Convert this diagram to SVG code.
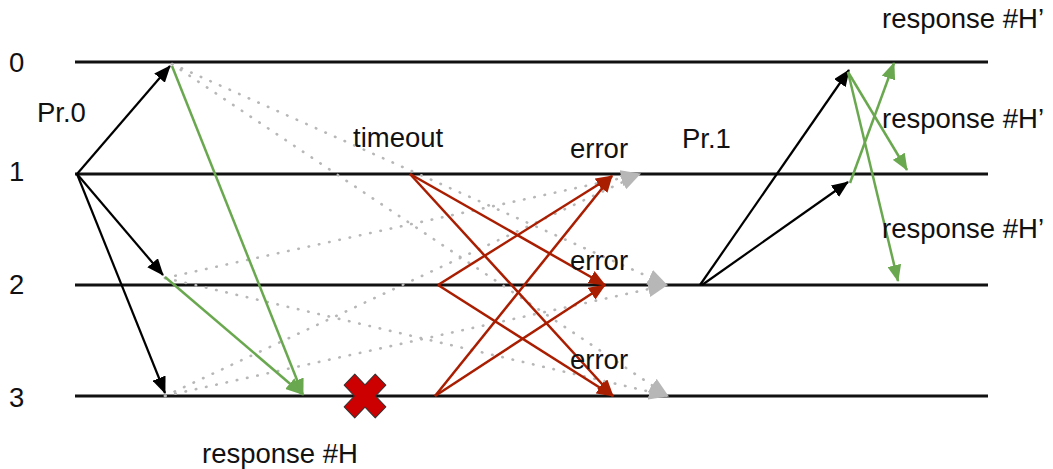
<svg xmlns="http://www.w3.org/2000/svg" width="1053" height="469" viewBox="0 0 1053 469">
<style>
text{font-family:"Liberation Sans",Arial,sans-serif;font-size:27.5px;fill:#111}
.lane{stroke:#111;stroke-width:3}
.blk{stroke:#000;stroke-width:2.2;fill:none;marker-end:url(#ab)}
.grn{stroke:#6aa84f;stroke-width:2.5;fill:none;marker-end:url(#ag)}
.red{stroke:#a91d00;stroke-width:2.5;fill:none;marker-end:url(#ar)}
.dot{stroke:#b7b7b7;stroke-width:2.6;fill:none;stroke-dasharray:0.5 10;stroke-linecap:round;marker-end:url(#ay)}
</style>
<defs>
<marker id="ab" markerUnits="userSpaceOnUse" markerWidth="17" markerHeight="14" refX="16" refY="7" orient="auto"><path d="M0,0 L17,7 L0,14 z" fill="#000"/></marker>
<marker id="ag" markerUnits="userSpaceOnUse" markerWidth="17" markerHeight="14" refX="16" refY="7" orient="auto"><path d="M0,0 L17,7 L0,14 z" fill="#6aa84f"/></marker>
<marker id="ar" markerUnits="userSpaceOnUse" markerWidth="17" markerHeight="14" refX="16" refY="7" orient="auto"><path d="M0,0 L17,7 L0,14 z" fill="#a91d00"/></marker>
<marker id="ay" markerUnits="userSpaceOnUse" markerWidth="20" markerHeight="16" refX="19" refY="8" orient="auto"><path d="M0,0 L20,8 L0,16 z" fill="#b7b7b7"/></marker>
</defs>
<g id="lanes">
<line class="lane" x1="75" y1="62" x2="988" y2="62"/>
<line class="lane" x1="75" y1="174" x2="988" y2="174"/>
<line class="lane" x1="75" y1="285" x2="988" y2="285"/>
<line class="lane" x1="75" y1="396" x2="988" y2="396"/>
</g>
<g id="lane-labels">
<text x="9" y="72">0</text>
<text x="9" y="181">1</text>
<text x="9" y="294">2</text>
<text x="9" y="407">3</text>
</g>
<g id="connectors">
<line class="dot" x1="172" y1="64" x2="667" y2="285"/>
<line class="dot" x1="172" y1="64" x2="668" y2="396"/>
<line class="dot" x1="165" y1="278" x2="640" y2="174"/>
<line class="dot" x1="165" y1="278" x2="668" y2="396"/>
<line class="dot" x1="165" y1="396" x2="640" y2="174"/>
<line class="dot" x1="165" y1="396" x2="667" y2="285"/>
<line class="blk" x1="77" y1="174" x2="170" y2="66"/>
<line class="blk" x1="77" y1="174" x2="163" y2="275"/>
<line class="blk" x1="77" y1="174" x2="165" y2="393"/>
<line class="grn" x1="172" y1="66" x2="303" y2="395"/>
<line class="grn" x1="165" y1="277" x2="302" y2="394"/>
<line class="red" x1="410" y1="174" x2="605" y2="285"/>
<line class="red" x1="410" y1="174" x2="613" y2="396"/>
<line class="red" x1="438" y1="285" x2="612" y2="176"/>
<line class="red" x1="438" y1="285" x2="613" y2="396"/>
<line class="red" x1="435" y1="396" x2="612" y2="176"/>
<line class="red" x1="435" y1="396" x2="605" y2="285"/>
<line class="blk" x1="700" y1="285" x2="849" y2="70"/>
<line class="blk" x1="702" y1="285" x2="848" y2="182"/>
<line class="grn" x1="848" y1="72" x2="907" y2="170"/>
<line class="grn" x1="848" y1="72" x2="898" y2="281"/>
<line class="grn" x1="850" y1="183" x2="894" y2="63"/>
</g>
<g id="failure" transform="translate(365,396) scale(1,1.05) rotate(45)">
<path d="M-7.5,-22 H7.5 V-7.5 H22 V7.5 H7.5 V22 H-7.5 V7.5 H-22 V-7.5 H-7.5 Z" fill="#cc0000" stroke="#333" stroke-width="1" stroke-linejoin="round"/>
</g>
<g id="labels">
<text x="37" y="122">Pr.0</text>
<text x="353" y="147">timeout</text>
<text x="570" y="158">error</text>
<text x="570" y="270">error</text>
<text x="570" y="369">error</text>
<text x="682" y="148">Pr.1</text>
<text x="202" y="463">response #H</text>
<text x="882" y="28">response #H’</text>
<text x="882" y="128">response #H’</text>
<text x="882" y="238">response #H’</text>
</g>
</svg>
